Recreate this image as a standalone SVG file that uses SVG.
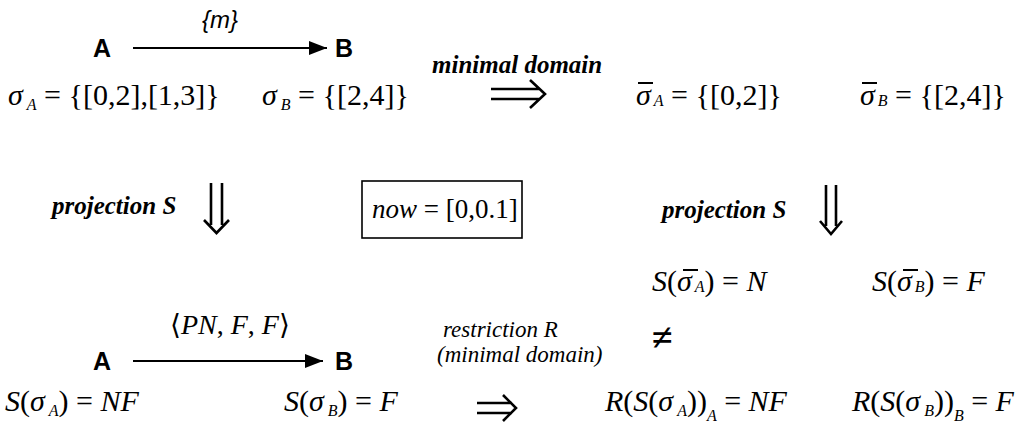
<svg xmlns="http://www.w3.org/2000/svg" width="1034" height="438" viewBox="0 0 1034 438">
<style>
.m{font-family:'Liberation Serif','Times New Roman',Tinos,'DejaVu Serif',serif;font-size:30px;fill:#000}
.i{font-style:italic}
.sub{font-style:italic;font-size:16px}
.lbl{font-family:'Liberation Serif','Times New Roman',Tinos,'DejaVu Serif',serif;font-style:italic;font-weight:bold;font-size:25px;fill:#000}
.lbl2{font-family:'Liberation Serif','Times New Roman',Tinos,'DejaVu Serif',serif;font-style:italic;font-size:23px;fill:#000}
.node{font-family:'Liberation Sans',Arial,sans-serif;font-weight:bold;font-size:25px;fill:#000}
.elbl{font-family:'Liberation Sans',Arial,sans-serif;font-style:italic;font-size:24px;fill:#000}
.ln{stroke:#000;stroke-width:1.8;fill:none}
.dbl{stroke:#000;stroke-width:2.6;fill:none}
.bar{stroke:#000;stroke-width:2}
</style>
<defs>
<marker id="ah" markerWidth="20" markerHeight="14" refX="18" refY="7" orient="auto" markerUnits="userSpaceOnUse">
<path d="M0,0 L18,7 L0,14 Z" fill="#000"/>
</marker>
</defs>

<g id="connectors">
<line class="ln" x1="133" y1="48" x2="327" y2="48" marker-end="url(#ah)"/>
<line class="ln" x1="133" y1="361" x2="323" y2="361" marker-end="url(#ah)"/>
<path class="dbl" d="M491,89 H540 M491,99 H540 M530,80 L545,94 L530,108"/>
<path class="dbl" d="M477,403 H512 M477,413 H512 M503,395 L516,408 L503,421"/>
<path class="dbl" d="M211,183 V225 M222,183 V225 M204,220 L216.5,233 L229,220"/>
<path class="dbl" d="M826,185 V226 M836,185 V226 M820,221 L831,234 L842,221"/>
</g>

<g id="node-A-top"><text class="node" x="93" y="57">A</text></g>
<g id="node-B-top"><text class="node" x="335" y="57">B</text></g>
<g id="label-m"><text class="elbl" x="202" y="28">{m}</text></g>

<g id="sigmaA"><text class="m" x="8" y="105"><tspan class="i">σ</tspan><tspan class="sub" dx="4" dy="5">A</tspan><tspan dy="-5"> = {[0,2],[1,3]}</tspan></text></g>
<g id="sigmaB"><text class="m" x="262" y="105"><tspan class="i">σ</tspan><tspan class="sub" dx="4" dy="5">B</tspan><tspan dy="-5"> = {[2,4]}</tspan></text></g>

<g id="label-minimal"><text class="lbl" x="432" y="73">minimal domain</text></g>

<g id="sigmaA-bar">
<line class="bar" x1="638" y1="83" x2="653" y2="83"/>
<text class="m" x="636" y="105"><tspan class="i">σ</tspan><tspan class="sub" dx="3" dy="1">A</tspan><tspan dy="-1"> = {[0,2]}</tspan></text>
</g>
<g id="sigmaB-bar">
<line class="bar" x1="862" y1="83" x2="877" y2="83"/>
<text class="m" x="860" y="105"><tspan class="i">σ</tspan><tspan class="sub" dx="3" dy="1">B</tspan><tspan dy="-1"> = {[2,4]}</tspan></text>
</g>

<g id="label-proj-left"><text class="lbl" x="52" y="214">projection S</text></g>
<g id="now-box">
<rect x="362" y="181" width="160" height="57" fill="none" stroke="#000" stroke-width="1.6"/>
<text class="m" x="372" y="218" style="font-size:27px"><tspan class="i">now</tspan> = [0,0.1]</text>
</g>
<g id="label-proj-right"><text class="lbl" x="662" y="218">projection S</text></g>

<g id="S-sigmaA-bar">
<line class="bar" x1="683" y1="270" x2="698" y2="270"/>
<text class="m" x="652" y="291"><tspan class="i">S</tspan>(<tspan class="i">σ</tspan><tspan class="sub" dx="3" dy="1">A</tspan><tspan dy="-1">) = </tspan><tspan class="i">N</tspan></text>
</g>
<g id="S-sigmaB-bar">
<line class="bar" x1="903" y1="270" x2="918" y2="270"/>
<text class="m" x="872" y="291"><tspan class="i">S</tspan>(<tspan class="i">σ</tspan><tspan class="sub" dx="3" dy="1">B</tspan><tspan dy="-1">) = </tspan><tspan class="i">F</tspan></text>
</g>

<g id="label-PNFF"><text class="m" x="170" y="334" style="font-size:28px">⟨<tspan class="i">PN</tspan>, <tspan class="i">F</tspan>, <tspan class="i">F</tspan>⟩</text></g>
<g id="node-A-bottom"><text class="node" x="93" y="370">A</text></g>
<g id="node-B-bottom"><text class="node" x="335" y="370">B</text></g>

<g id="label-restriction">
<text class="lbl2" x="443" y="337">restriction R</text>
<text class="lbl2" x="437" y="362">(minimal domain)</text>
</g>
<g id="neq"><text class="m" x="652" y="350" style="font-size:38px;font-weight:bold">≠</text></g>

<g id="S-sigmaA"><text class="m" x="5" y="411"><tspan class="i">S</tspan>(<tspan class="i">σ</tspan><tspan class="sub" dx="4" dy="5">A</tspan><tspan dy="-5">) = </tspan><tspan class="i">NF</tspan></text></g>
<g id="S-sigmaB"><text class="m" x="284" y="411"><tspan class="i">S</tspan>(<tspan class="i">σ</tspan><tspan class="sub" dx="4" dy="5">B</tspan><tspan dy="-5">) = </tspan><tspan class="i">F</tspan></text></g>

<g id="R-A"><text class="m" x="605" y="411"><tspan class="i">R</tspan>(<tspan class="i">S</tspan>(<tspan class="i">σ</tspan><tspan class="sub" dx="4" dy="5">A</tspan><tspan dy="-5">))</tspan><tspan class="sub" dy="10">A</tspan><tspan dy="-10"> = </tspan><tspan class="i">NF</tspan></text></g>
<g id="R-B"><text class="m" x="852" y="411"><tspan class="i">R</tspan>(<tspan class="i">S</tspan>(<tspan class="i">σ</tspan><tspan class="sub" dx="4" dy="5">B</tspan><tspan dy="-5">))</tspan><tspan class="sub" dy="10">B</tspan><tspan dy="-10"> = </tspan><tspan class="i">F</tspan></text></g>
</svg>
